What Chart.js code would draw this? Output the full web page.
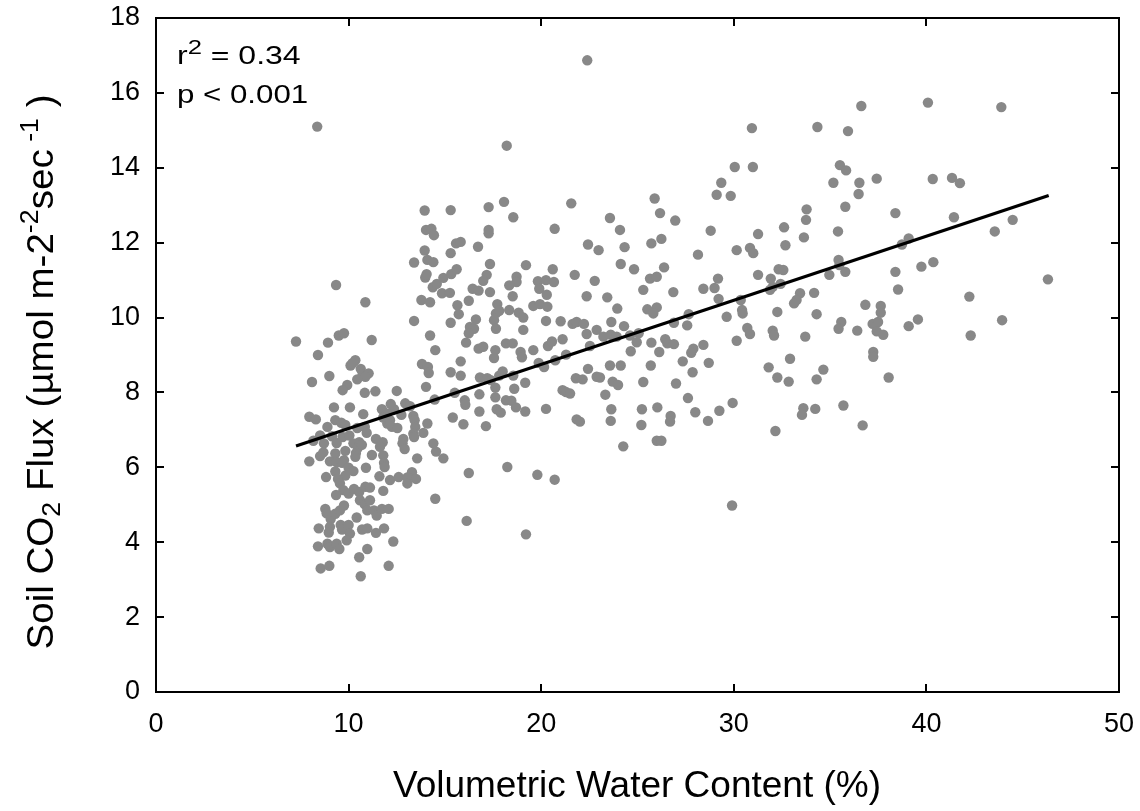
<!DOCTYPE html>
<html>
<head>
<meta charset="utf-8">
<script src="https://cdn.jsdelivr.net/npm/chart.js@4.4.1/dist/chart.umd.min.js"></script>
<style>
  html, body { margin: 0; padding: 0; background: #fff; }
  #chart { display: block; }
</style>
</head>
<body>
<canvas id="chart" width="1140" height="811"></canvas>
<script>
// soil CO2 flux vs volumetric water content
const vwcDry = [9.35,10.87,7.27,8.93,9.49,9.76,11.2,8.41,10.1,10.35,
  10.2,10.63,10.73,11.04,10.87,10.45,9.0,8.1,9.93,9.69,
  10.84,11.39,12.5,9.24,10.07,10.76,11.73,12.19,12.36,11.98,
  7.96,8.3,8.9,9.31,9.62,9.83,10.45,10.84,10.94,11.8,
  12.01,12.15,12.25,12.53,8.17,8.52,8.72,9.14,9.38,9.69,
  10.04,10.25,10.55,10.49,10.69,11.42,11.77,11.63,7.96,8.52,
  8.69,9.03,9.31,9.38,9.83,9.76,10.38,10.35,11.21,10.9,
  11.8,11.84,11.87,8.83,9.31,9.66,10.0,10.25,9.83,9.45,
  11.6,12.15,12.6,9.55,9.73,9.35,10.0,10.28,10.55,10.87,
  11.11,10.59,10.84,11.11,10.97,11.32,11.46,11.73,12.08,11.8,
  8.79,8.86,9.07,9.31,9.55,9.76,10.42,8.45,9.03,8.97,
  9.59,9.66,10.0,10.07,10.7,10.97,11.42,11.84,8.41,8.9,
  9.03,9.38,9.52,9.9,12.32,10.55,10.97,8.55,9.0,12.08,
  10.63,8.37];
const fluxDry = [10.87,10.41,9.36,9.33,9.52,9.58,9.4,9.0,8.72,8.86,
  8.78,8.63,8.49,8.51,8.42,8.35,8.44,8.28,8.2,8.06,
  7.99,8.03,8.04,7.6,7.6,7.42,7.55,7.69,7.55,7.44,
  7.35,7.28,7.08,7.26,7.19,7.13,7.05,7.08,6.92,7.33,
  7.17,7.26,7.08,7.05,6.71,6.85,6.64,6.83,6.65,6.81,
  6.85,6.64,6.67,6.53,6.6,6.76,6.67,6.55,6.16,6.3,
  6.4,6.16,6.37,6.14,6.44,6.19,6.38,6.28,6.33,5.99,
  6.32,6.12,6.01,5.74,5.89,6.12,5.99,5.9,5.78,5.69,
  5.76,5.66,5.74,5.57,5.39,5.26,5.3,5.42,5.34,5.48,
  5.46,5.12,5.01,5.12,4.85,4.85,4.71,4.89,4.89,5.37,
  4.89,4.77,4.62,4.76,4.85,4.98,4.66,4.37,4.41,4.26,
  4.46,4.34,4.46,4.23,4.34,4.37,4.25,4.37,3.89,3.96,
  3.87,3.96,3.82,4.05,4.02,3.6,3.82,3.3,3.37,3.37,
  3.09,15.1];

const vwcMidHigh = [13.95,15.3,17.27,18.07,18.55,21.56,14.02,14.3,14.43,17.27,
  17.27,20.7,15.58,15.82,16.72,22.43,13.95,15.3,22.98,13.4,
  14.09,14.4,17.34,19.21,20.6,21.74,22.78,13.98,14.05,14.92,
  15.33,15.61,17.17,16.99,18.72,18.72,19.83,20.25,20.66,14.37,
  14.58,16.44,16.75,17.34,18.34,19.9,20.29,14.85,15.26,18.52,
  22.36,13.78,14.23,16.24,15.65,17.72,19.59,19.94,20.32,15.72,
  16.61,17.65,17.82,17.55,18.34,18.83,19.07,13.4,15.3,20.25,
  21.01,21.63,21.84,22.22,22.88,16.3,16.51,16.24,17.65,19.07,
  14.23,22.36,16.1,18.17,18.52,20.35,20.56,21.11,22.53,14.5,
  16.75,16.99,17.62,17.55,18.93,19.0,19.59,21.29,15.82,13.81,
  14.12,14.16,19.87,20.15,20.73,22.43,18.21,22.39];
const fluxMidHigh = [12.86,12.87,12.95,13.09,12.68,13.05,12.34,12.37,12.2,12.34,
  12.25,12.37,11.98,12.02,11.89,11.95,11.79,11.72,11.8,11.47,
  11.54,11.48,11.43,11.4,11.29,11.14,10.98,11.07,11.16,11.06,
  11.16,11.29,11.14,10.98,11.09,10.95,10.97,11.0,10.95,10.81,
  10.9,10.77,10.72,10.68,10.86,10.77,10.61,10.65,10.66,10.57,
  10.57,10.47,10.41,10.45,10.33,10.36,10.31,10.36,10.29,10.09,
  9.95,10.11,10.18,9.93,10.2,10.13,10.0,9.91,9.86,9.91,
  9.9,9.83,9.88,9.83,9.67,9.75,9.7,9.58,9.7,9.67,
  9.52,9.56,9.33,9.31,9.31,9.24,9.36,9.42,9.24,9.13,
  9.17,9.22,9.13,8.92,9.08,8.94,9.13,9.01,8.83,8.76,
  8.68,8.52,8.79,8.68,8.86,8.63,14.59,16.87];

const vwcMidLow = [15.3,15.82,16.82,17.2,17.38,17.82,18.0,18.55,19.17,21.8,
  22.15,22.88,14.02,14.47,15.51,16.03,16.06,16.79,17.62,17.62,
  18.17,18.45,18.69,18.6,19.17,21.11,21.29,21.5,20.25,21.84,
  22.01,12.94,13.19,12.74,13.36,13.43,13.46,13.36,13.4,14.09,
  13.88,15.41,15.96,16.79,17.13,17.69,17.9,12.84,12.8,12.91,
  14.4,14.54,14.92,13.56,13.29,13.05,13.5,13.05,16.24,18.24,
  19.8,20.7,14.5,16.13,19.21];
const fluxMidLow = [8.54,8.45,8.4,8.38,8.33,8.45,8.56,8.45,8.26,8.38,
  8.35,8.42,8.15,7.81,7.99,7.79,7.67,7.95,8.13,7.87,
  7.79,7.78,7.6,8.1,7.49,8.06,8.01,7.97,7.56,7.28,
  7.22,7.71,7.63,7.4,7.37,7.26,7.08,6.9,6.81,7.17,
  6.92,7.33,7.15,7.49,7.1,7.55,7.46,6.76,6.64,6.49,
  6.64,6.42,6.24,6.24,5.87,5.73,5.69,5.57,5.85,6.01,
  5.8,5.67,5.16,4.57,4.21];

const vwcMoist = [29.35,29.11,29.84,25.89,23.57,26.17,26.96,24.09,28.8,31.26,
  32.61,24.33,25.72,26.24,28.14,30.15,30.84,31.01,32.68,24.13,
  24.82,26.38,31.26,32.33,32.57,25.65,26.0,29.18,29.0,31.92,
  32.43,25.3,26.86,28.42,31.88,32.02,23.43,29.21,30.36,23.95,
  25.51,26.0,25.82,30.43,30.46,32.26,27.66,29.63,23.64,24.3,
  26.89,27.58,30.7,30.84,32.02,32.09,23.23,23.61,23.92,24.61,
  25.06,24.96,25.72,26.44,26.55,26.89,28.42,30.15,24.65,26.13,
  27.9,27.79,27.35,28.7,32.92,23.57,24.13,25.69,31.81,27.86,
  23.05,23.71,23.99,25.3,27.0,23.33,23.64,23.61,25.23,25.2,
  26.03,26.72,26.69,27.62,28.0,28.66,29.25,29.94,26.0,26.24,
  24.26,32.26,32.85,32.16,29.91,30.94,30.05,30.99];
const fluxMoist = [13.6,13.28,13.25,13.18,12.66,12.79,12.59,12.34,12.32,12.23,
  12.41,11.88,11.98,12.1,11.68,11.8,11.86,11.72,11.93,11.43,
  11.29,11.34,11.14,11.29,11.27,11.04,11.09,11.04,10.79,11.04,
  10.9,10.74,10.68,10.77,10.74,10.82,10.54,10.5,10.47,10.24,
  10.22,10.27,10.11,10.2,10.11,10.15,10.09,10.02,9.88,9.77,
  9.86,9.79,9.72,9.56,9.65,9.52,9.49,9.54,9.49,9.52,
  9.58,9.34,9.33,9.42,9.31,9.29,9.27,9.38,9.1,9.08,
  9.17,9.06,8.83,8.79,8.9,8.72,8.72,8.72,8.67,8.54,
  8.4,8.29,8.2,8.28,8.24,7.94,7.55,7.24,7.55,7.13,
  7.6,7.37,7.22,7.85,7.47,7.24,7.51,7.72,6.71,6.71,
  6.56,8.4,8.29,6.97,4.98,15.06,14.02,14.02];

const vwcWet = [36.62,40.08,34.34,35.93,35.51,35.83,35.17,36.52,36.48,37.42,
  40.33,41.33,41.74,35.79,33.78,33.75,38.39,41.43,35.41,33.64,
  39.08,38.73,35.44,35.48,34.96,35.79,38.39,39.74,40.36,33.44,
  34.17,38.53,42.23,33.26,33.13,34.3,36.83,37.63,37.63,35.58,
  35.44,36.41,37.21,37.49,37.42,37.76,39.08,39.56,42.3,33.71,
  37.24,37.24,34.65,34.3,38.04,33.61,33.54,34.23,35.69,36.69,
  43.89,44.48,43.55,46.31,43.93];
const fluxWet = [15.65,15.74,15.09,14.98,14.07,13.93,13.6,13.6,13.3,13.71,
  13.7,13.73,13.59,12.96,12.89,12.61,12.79,12.68,12.3,12.14,
  12.11,11.95,11.54,11.4,11.14,11.22,11.22,11.36,11.48,10.65,
  10.66,10.75,10.56,10.47,10.38,10.09,10.34,10.31,10.13,9.88,
  9.7,9.65,9.83,9.88,9.63,9.54,9.77,9.95,9.52,9.49,
  9.08,8.95,8.61,8.35,8.4,7.58,7.4,7.56,7.65,7.12,
  15.62,12.61,12.3,11.02,9.93];

// regression line end points
const fitVwc = [7.27, 46.35];
const fitFlux = [6.57, 13.26];

const xTicks = [0, 10, 20, 30, 40, 50];
const yTicks = [0, 2, 4, 6, 8, 10, 12, 14, 16, 18];
const statR2 = '0.34';
const statP = '0.001';

const FONT = '"Liberation Sans", Arial, sans-serif';

function pairs(xs, ys) {
  return xs.map(function(x, i) { return { x: x, y: ys[i] }; });
}

let points = [].concat(
  pairs(vwcDry, fluxDry),
  pairs(vwcMidHigh, fluxMidHigh),
  pairs(vwcMidLow, fluxMidLow),
  pairs(vwcMoist, fluxMoist),
  pairs(vwcWet, fluxWet)
);

// text runs: [text, 'sub' | 'sup' | '']
function runsDraw(ctx, runs, size, doDraw, small) {
  let x = 0;
  runs.forEach(function(r) {
    let s = r[1] ? Math.round(size * (small || 0.7)) : size,
      dy = r[1] === 'sup' ? -size * 0.42 : (r[1] === 'sub' ? size * 0.2 : 0);
    ctx.font = s + 'px ' + FONT;
    if (doDraw) { ctx.fillText(r[0], x, dy); }
    x += ctx.measureText(r[0]).width;
  });
  return x;
}

const framePlugin = {
  id: 'frame',
  afterDatasetsDraw: function(chart) {
    let ctx = chart.ctx,
      a = chart.chartArea,
      sx = chart.scales.x,
      sy = chart.scales.y,
      tl = 8;
    ctx.save();
    ctx.strokeStyle = '#000';
    ctx.lineWidth = 2;
    ctx.strokeRect(a.left, a.top, a.right - a.left, a.bottom - a.top);
    ctx.beginPath();
    xTicks.forEach(function(v) {
      let px = Math.round(sx.getPixelForValue(v));
      ctx.moveTo(px, a.bottom); ctx.lineTo(px, a.bottom - tl);
      ctx.moveTo(px, a.top); ctx.lineTo(px, a.top + tl);
    });
    yTicks.forEach(function(v) {
      let py = Math.round(sy.getPixelForValue(v));
      ctx.moveTo(a.left, py); ctx.lineTo(a.left + tl, py);
      ctx.moveTo(a.right, py); ctx.lineTo(a.right - tl, py);
    });
    ctx.stroke();
    ctx.restore();
  },
  afterDraw: function(chart) {
    let ctx = chart.ctx,
      yRuns = [['Soil CO', ''], ['2', 'sub'], [' Flux (\u00b5mol m-2', ''], ['-2', 'sup'],
               ['sec', ''], [' -1', 'sup'], [' )', '']],
      w, k;
    ctx.save();
    ctx.fillStyle = '#000';
    ctx.textBaseline = 'alphabetic';

    // x title
    ctx.font = '37px ' + FONT;
    ctx.textAlign = 'center';
    ctx.fillText('Volumetric Water Content (%)', 637, 797);

    // y title, rotated, with sub/superscripts
    ctx.textAlign = 'left';
    w = runsDraw(ctx, yRuns, 36, false);
    k = 555 / w;
    ctx.save();
    ctx.translate(53, 372);
    ctx.rotate(-Math.PI / 2);
    ctx.scale(k, 1);
    ctx.translate(-w / 2, 0);
    runsDraw(ctx, yRuns, 36, true);
    ctx.restore();

    // statistics
    ctx.save();
    ctx.translate(177, 64);
    ctx.scale(1.28, 1);
    runsDraw(ctx, [['r', ''], ['2', 'sup'], [' = ' + statR2, '']], 25, true, 0.8);
    ctx.restore();
    ctx.save();
    ctx.translate(177, 103);
    ctx.scale(1.25, 1);
    runsDraw(ctx, [['p < ' + statP, '']], 25, true);
    ctx.restore();

    ctx.restore();
  }
};

new Chart(document.getElementById('chart').getContext('2d'), {
  type: 'scatter',
  data: {
    datasets: [
      {
        type: 'line',
        data: pairs(fitVwc, fitFlux),
        borderColor: '#000',
        borderWidth: 3.2,
        pointRadius: 0,
        fill: false,
        order: 0
      },
      {
        data: points,
        backgroundColor: '#888888',
        borderWidth: 0,
        pointRadius: 5.2,
        order: 1
      }
    ]
  },
  options: {
    responsive: false,
    animation: false,
    layout: { padding: { top: 18, right: 21, left: 0, bottom: 0 } },
    plugins: {
      legend: { display: false },
      tooltip: { enabled: false }
    },
    scales: {
      x: {
        type: 'linear',
        min: 0, max: 50,
        afterFit: function(scale) {
          scale.height = 119;
          scale.paddingLeft = 0;
          scale.paddingRight = 0;
        },
        afterBuildTicks: function(scale) { scale.ticks = xTicks.map(function(v) { return { value: v }; }); },
        grid: { display: false, drawTicks: false },
        border: { display: false },
        ticks: { color: '#000', padding: 16, maxRotation: 0, font: { family: FONT, size: 27 } }
      },
      y: {
        type: 'linear',
        min: 0, max: 18,
        afterFit: function(scale) {
          scale.width = 156;
          scale.paddingTop = 0;
          scale.paddingBottom = 0;
        },
        afterBuildTicks: function(scale) { scale.ticks = yTicks.map(function(v) { return { value: v }; }); },
        grid: { display: false, drawTicks: false },
        border: { display: false },
        ticks: { color: '#000', padding: 16, font: { family: FONT, size: 27 } }
      }
    }
  },
  plugins: [framePlugin]
});
</script>
</body>
</html>
